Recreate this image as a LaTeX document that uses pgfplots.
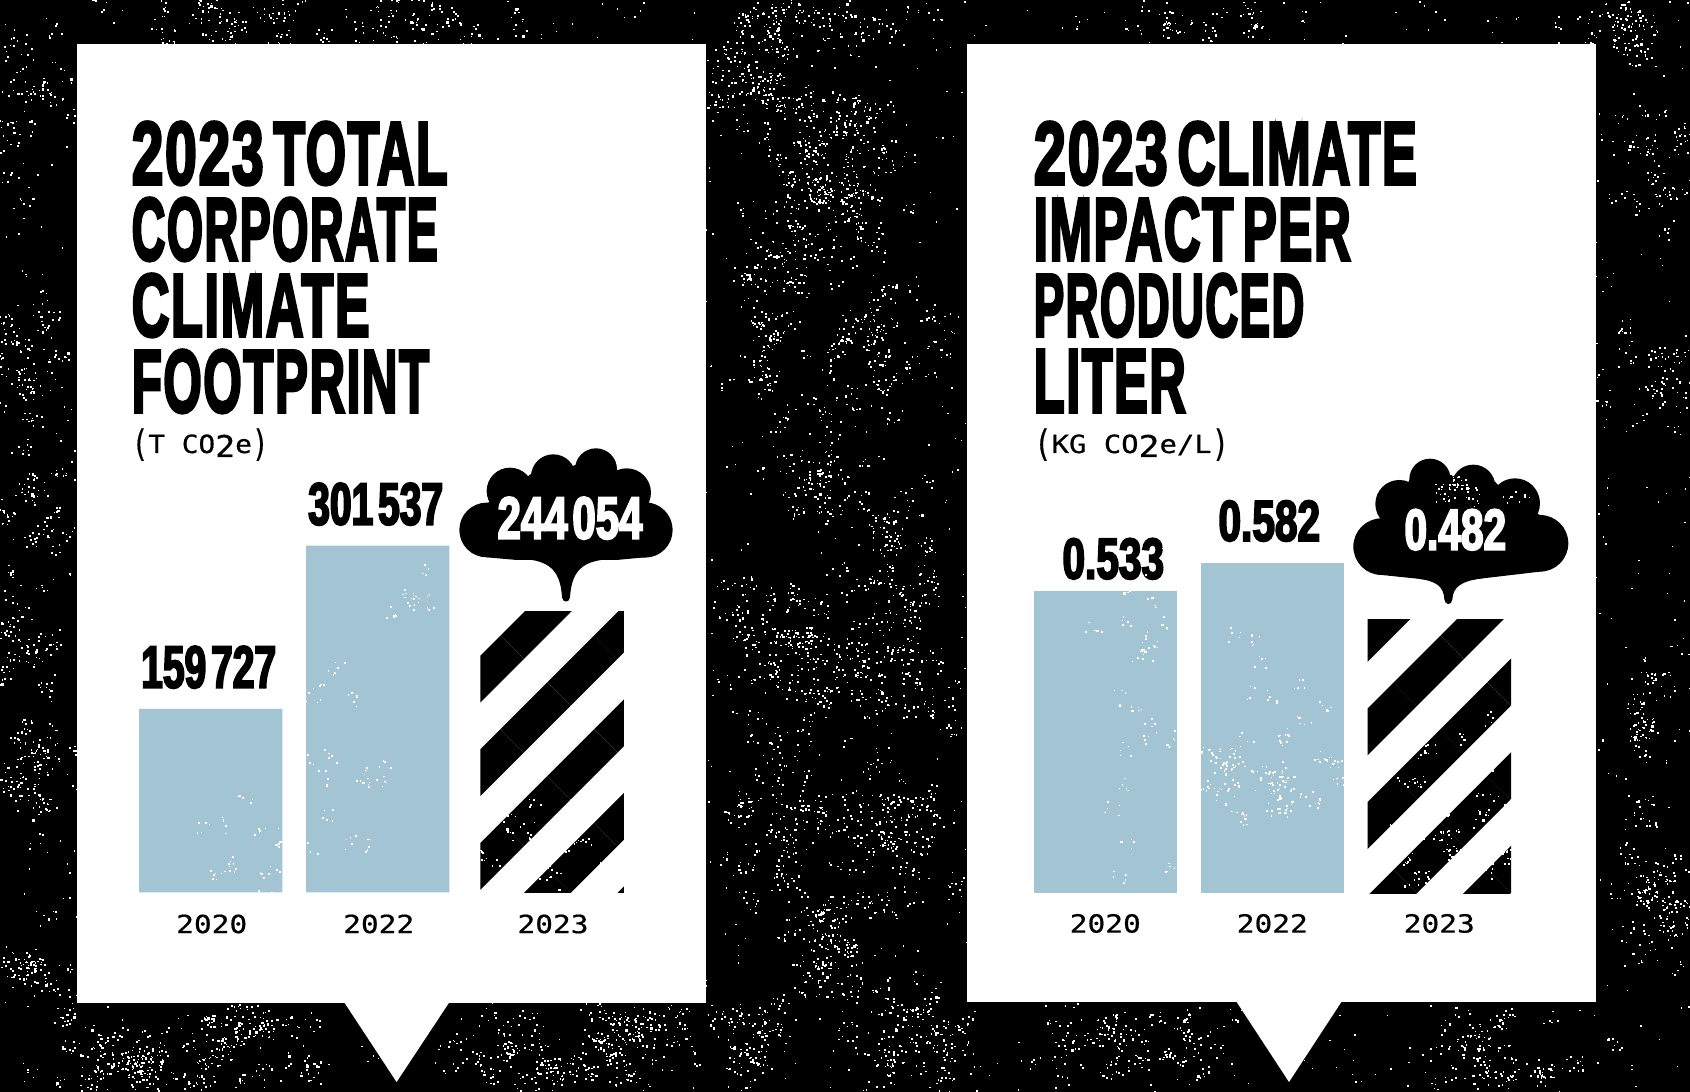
\documentclass[border=0pt]{standalone}
\usepackage{fontspec}
\usepackage{graphicx}
\usepackage{pgfplots}
\pgfplotsset{compat=1.18}
\usetikzlibrary{patterns.meta}
\setmainfont{Liberation Sans}
\newfontfamily\disp[FakeBold=4,LetterSpace=3,WordSpace=0.6]{Liberation Sans Bold}
\newfontfamily\valA[FakeStretch=0.65,FakeBold=3]{Liberation Sans Bold}
\newfontfamily\valB[FakeStretch=0.70,FakeBold=3]{Liberation Sans Bold}
\newfontfamily\mono[FakeStretch=1.18,FakeBold=0.6]{DejaVu Sans Mono}
\definecolor{barblue}{HTML}{A3C4D3}
\newcommand\tsp{\hspace{.08em}}
\newcommand\tl[4]{\node[anchor=base west,inner sep=0pt] at (#1,#2) {\resizebox{#3pt}{62pt}{\disp #4}};}
\newcommand\yr{\scalebox{1.1}[1]{2023}}
\newcommand\tparen[1]{\raisebox{-3pt}{\scalebox{1}[1.45]{#1}}}
% decorative grunge texture only (not chart data): clumps of small dots
\newcommand\speck[5]{\foreach \i in {1,...,#5}{%
  \pgfmathsetmacro\xc{#1+(rnd+rnd+rnd-1.5)*#3}%
  \pgfmathsetmacro\yc{#2+(rnd+rnd+rnd-1.5)*#4}%
  \foreach \j in {1,...,5}{%
  \pgfmathsetmacro\xx{\xc+(rnd-0.5)*16}%
  \pgfmathsetmacro\yy{\yc+(rnd-0.5)*16}%
  \pgfmathsetmacro\rr{1+rnd*1.3}%
  \fill[white] (\xx,\yy) rectangle ++(\rr,\rr);}}}
\newcommand\dust[1]{\foreach \i in {1,...,#1}{%
  \pgfmathsetmacro\xx{rnd*1690}%
  \pgfmathsetmacro\yy{rnd*1092}%
  \pgfmathsetmacro\rr{0.9+rnd*1.0}%
  \fill[white] (\xx,\yy) rectangle ++(\rr,\rr);}}
\newcommand\lobe[3]{\fill[black] (#1,#2) circle (#3/3 pt);}
\begin{document}
\begin{tikzpicture}[x=1pt,y=1pt]
\useasboundingbox (0,0) rectangle (1690,1092);
\clip (0,0) rectangle (1690,1092);
\fill[black] (0,0) rectangle (1690,1092);
\pgfmathsetseed{4711}
\begin{scope}[shift={(0,1092)},y=-1pt]
\dust{2500}
\speck{760}{80}{60}{60}{45}
\speck{820}{215}{80}{90}{70}
\speck{840}{120}{70}{60}{40}
\speck{760}{330}{40}{80}{30}
\speck{875}{360}{70}{60}{40}
\speck{830}{465}{60}{60}{30}
\speck{895}{560}{60}{70}{40}
\speck{755}{625}{50}{60}{30}
\speck{820}{670}{70}{70}{45}
\speck{905}{690}{60}{60}{30}
\speck{775}{820}{60}{70}{40}
\speck{895}{830}{60}{60}{45}
\speck{830}{950}{60}{60}{45}
\speck{745}{1035}{50}{40}{30}
\speck{915}{1035}{60}{50}{45}
\speck{22}{108}{40}{70}{22}
\speck{18}{355}{40}{60}{30}
\speck{32}{520}{40}{70}{25}
\speck{22}{670}{40}{60}{22}
\speck{32}{775}{40}{60}{30}
\speck{32}{970}{40}{50}{22}
\speck{215}{18}{120}{25}{25}
\speck{430}{18}{100}{25}{25}
\speck{140}{1062}{90}{40}{55}
\speck{245}{1040}{70}{50}{45}
\speck{520}{1055}{80}{40}{40}
\speck{625}{1035}{60}{40}{45}
\speck{1135}{1045}{90}{40}{45}
\speck{1510}{1055}{80}{40}{40}
\speck{1660}{895}{45}{70}{45}
\speck{1650}{700}{45}{70}{22}
\speck{1650}{375}{45}{70}{22}
\speck{1650}{160}{45}{70}{22}
\speck{1620}{25}{60}{30}{25}
\speck{1180}{18}{100}{25}{22}
\speck{820}{18}{100}{25}{30}
% panels
\fill[white] (76.5,44) rectangle (706,1003);
\fill[white] (344,1002) -- (449.5,1002) -- (396.6,1082) -- cycle;
\fill[white] (967,44) rectangle (1596,1002);
\fill[white] (1236,1001) -- (1342,1001) -- (1289,1082) -- cycle;
\end{scope}
% left cloud
\begin{scope}[shift={(430,672)},x=0.3333pt,y=-0.3333pt]
\lobe{170}{330}{82}\lobe{645}{330}{83}\lobe{240}{213}{70}\lobe{370}{170}{67}\lobe{498}{148}{63}\lobe{590}{218}{73}
\fill[black] (170,250)--(240,215)--(305,160)--(372,170)--(435,135)--(498,148)--(560,155)--(590,220)--(645,250)--(645,412)--(560,420)--(260,420)--(170,412)--cycle;
\fill[black] (290,418) .. controls (365,425) and (392,460) .. (396,532)
   .. controls (398,549) and (418,549) .. (420,532)
   .. controls (425,460) and (450,425) .. (530,418) -- cycle;
\end{scope}
% right cloud
\begin{scope}[shift={(1340,652)},x=0.3333pt,y=-0.3333pt]
\lobe{125}{320}{85}\lobe{600}{310}{85}\lobe{178}{192}{72}\lobe{270}{118}{62}\lobe{400}{140}{66}\lobe{525}{190}{75}
\fill[black] (125,235)--(178,192)--(208,120)--(270,118)--(333,105)--(400,140)--(465,125)--(525,190)--(600,225)--(600,395)--(430,415)--(350,425)--(290,422)--(125,405)--cycle;
\fill[black] (230,416) .. controls (290,422) and (311,440) .. (313,478)
   .. controls (315,497) and (335,497) .. (337,478)
   .. controls (340,440) and (362,424) .. (430,414) -- cycle;
\end{scope}
% titles
\tl{131.5}{908}{316}{\yr{} TOTAL}
\tl{131.5}{832}{306}{CORPORATE}
\tl{131.5}{756}{238}{CLIMATE}
\tl{131.5}{680}{297.5}{FOOTPRINT}
\tl{1033.6}{908}{383}{\yr{} CLIMATE}
\tl{1033.6}{832}{317}{IMPACT PER}
\tl{1033.6}{756}{270.5}{PRODUCED}
\tl{1033.6}{680}{152}{LITER}
\node[anchor=base west,inner sep=0pt,font=\fontsize{25}{25}\mono] at (131.5,639) {\scalebox{.94}[1]{\tparen{(}T CO\raisebox{-4pt}{\fontsize{30}{30}\selectfont 2}e\tparen{)}}};
\node[anchor=base west,inner sep=0pt,font=\fontsize{25}{25}\mono] at (1034,639) {\scalebox{.98}[1]{\tparen{(}KG CO\raisebox{-4pt}{\fontsize{30}{30}\selectfont 2}e/L\tparen{)}}};
% left chart
\begin{axis}[
  at={(127.2pt,199.5pt)},anchor=south west,scale only axis,
  width=517.7pt,height=368pt,xmin=-0.5,xmax=2.6,ymin=0,ymax=320000,
  clip=false,ybar,bar width=143.4pt,bar shift=0pt,
  axis line style={draw=none},ymajorticks=false,major tick length=0pt,
  xtick={0,1,2.044},xticklabels={2020,2022,2023},
  xticklabel style={font=\fontsize{25}{25}\mono,text=black,yshift=-18.5pt,xshift=1pt},
  point meta=explicit symbolic,nodes near coords,
  nodes near coords style={anchor=base,font=\fontsize{60}{60}\valA,inner sep=0pt,text=black},
]
\addplot[fill=barblue,draw=none,nodes near coords style={xshift=-2pt,yshift=21pt}] coordinates {(0,159727)[159\tsp 727] (1,301537)[301\tsp 537]};
\addplot[pattern={Lines[angle=45,distance=66.2pt,line width=33.1pt,xshift=-26.2pt]},pattern color=black,draw=none,
  nodes near coords style={text=white,xshift=18pt,yshift=73pt,font=\fontsize{60}{60}\valB}] coordinates {(2.044,244054)[244\tsp 054]};
\end{axis}
% right chart
\begin{axis}[
  at={(1021.8pt,198.5pt)},anchor=south west,scale only axis,
  width=501pt,height=363.5pt,xmin=-0.5,xmax=2.5,ymin=0,ymax=0.64,
  clip=false,ybar,bar width=143.4pt,bar shift=0pt,
  axis line style={draw=none},ymajorticks=false,major tick length=0pt,
  xtick={0,1,2},xticklabels={2020,2022,2023},
  xticklabel style={font=\fontsize{25}{25}\mono,text=black,yshift=-17pt},
  point meta=explicit symbolic,nodes near coords,
  nodes near coords style={anchor=base,font=\fontsize{58}{58}\valB,inner sep=0pt,text=black},
]
\addplot[fill=barblue,draw=none,nodes near coords style={xshift=8pt,yshift=12pt}] coordinates {(0,0.533)[0.533]};
\addplot[fill=barblue,draw=none,nodes near coords style={xshift=-3pt,yshift=22pt}] coordinates {(1,0.582)[0.582]};
\addplot[pattern={Lines[angle=45,distance=66.2pt,line width=33.1pt,xshift=-22.3pt]},pattern color=black,draw=none,
  nodes near coords style={text=white,xshift=16pt,yshift=70pt}] coordinates {(2,0.482)[0.482]};
\end{axis}
% grunge on the bars and clouds (decorative)
\begin{scope}[shift={(0,1092)},y=-1pt]
\speck{240}{850}{60}{60}{12}
\speck{330}{800}{70}{100}{10}
\speck{330}{700}{70}{100}{8}
\speck{400}{610}{30}{40}{6}
\speck{520}{860}{60}{50}{14}
\speck{570}{840}{60}{60}{12}
\speck{1140}{640}{40}{100}{14}
\speck{1140}{800}{60}{70}{8}
\speck{1250}{780}{70}{50}{34}
\speck{1310}{780}{50}{60}{10}
\speck{1250}{670}{70}{50}{6}
\speck{1430}{850}{60}{70}{28}
\speck{1460}{760}{70}{60}{16}
\speck{1490}{850}{40}{50}{12}
\speck{1480}{490}{50}{20}{12}
\end{scope}
\end{tikzpicture}
\end{document}
